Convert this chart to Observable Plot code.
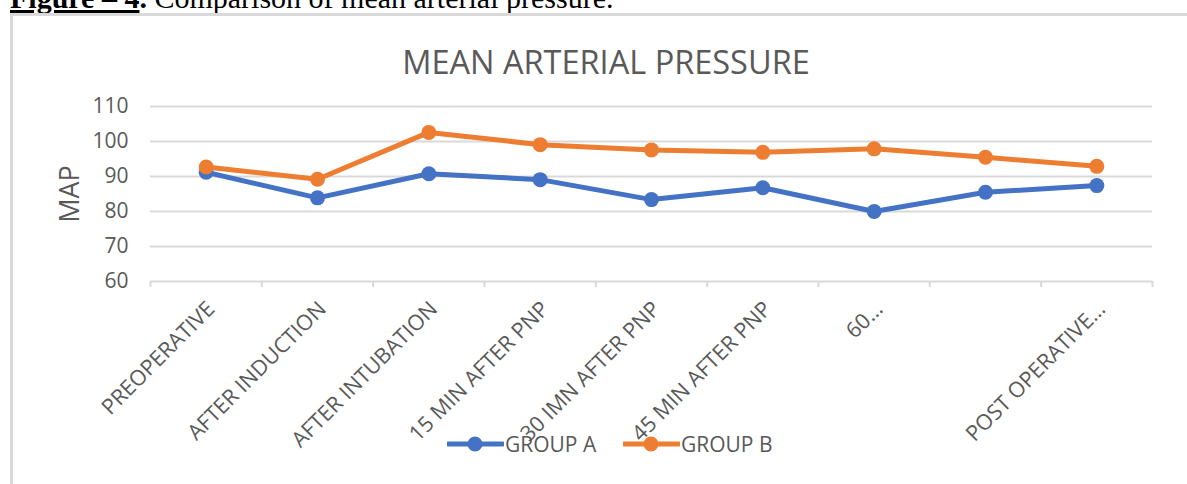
<!DOCTYPE html>
<html>
<head>
<meta charset="utf-8">
<script src="https://cdn.jsdelivr.net/npm/d3@7"></script>
<script src="https://cdn.jsdelivr.net/npm/@observablehq/plot@0.6"></script>
<style>
  html, body { margin: 0; padding: 0; background: #fff; overflow: hidden; }
  #page { position: relative; width: 1187px; height: 484px; overflow: hidden; }
  #caption { position: absolute; left: 10px; top: -17px; font: 30px "Liberation Serif", serif; line-height: 30px; color: #000; white-space: nowrap; }
  #box { position: absolute; left: 10px; top: 13px; width: 1300px; height: 600px; border: 3px solid #d9d9d9; box-sizing: border-box; pointer-events: none; }
  #title { position: absolute; left: 0; width: 1212px; top: 47px; text-align: center; font: 32.5px "Open Sans", sans-serif; line-height: 30px; color: #595959; }
  #ylabel { position: absolute; left: 67.5px; top: 194px; transform: translate(-50%, -50%) rotate(-90deg); font: 27px "Open Sans", sans-serif; line-height: 27px; color: #595959; white-space: nowrap; }
  #chart { position: absolute; left: 0; top: 0; }
  .leg { position: absolute; font: 21px "Open Sans", sans-serif; line-height: 21px; color: #595959; white-space: nowrap; }
  .sw { position: absolute; }
</style>
</head>
<body>
<div id="page">
  <div id="caption"><b><u>Figure – 4</u>.</b> Comparison of mean arterial pressure.</div>
  <div id="chart"></div>
  <div id="box"></div>
  <div id="title">MEAN ARTERIAL PRESSURE</div>
  <div id="ylabel">MAP</div>
  <div id="legend"></div>
</div>
<script>
const categories = ["PREOPERATIVE", "AFTER INDUCTION", "AFTER INTUBATION", "15 MIN AFTER PNP", "30 IMN AFTER PNP", "45 MIN AFTER PNP", "60…", "", "POST OPERATIVE…"];
const groupA = [91.2, 83.9, 90.8, 89.1, 83.4, 86.8, 80.0, 85.5, 87.4];
const groupB = [92.7, 89.2, 102.6, 99.1, 97.6, 96.9, 97.9, 95.5, 92.9];
const seriesNames = ["GROUP A", "GROUP B"];
const seriesColors = ["#4472C4", "#ED7D31"];
const yTicks = [60, 70, 80, 90, 100, 110];

const rowsA = categories.map((c, i) => ({cat: c, i: i + 0.5, v: groupA[i]}));
const rowsB = categories.map((c, i) => ({cat: c, i: i + 0.5, v: groupB[i]}));
const centers = categories.map((c, i) => i + 0.5);
const bounds = d3.range(categories.length + 1);

const chart = Plot.plot({
  width: 1187,
  height: 484,
  marginTop: 106,
  marginBottom: 203,
  marginLeft: 150,
  marginRight: 35,
  x: {domain: [0, categories.length]},
  y: {domain: [60, 110]},
  style: {background: "transparent", fontFamily: "Open Sans", color: "#595959", overflow: "visible"},
  marks: [
    Plot.gridY(yTicks, {stroke: "#d9d9d9", strokeOpacity: 1, strokeWidth: 2}),
    Plot.axisY(yTicks, {tickSize: 0, tickPadding: 22, fontSize: 21, fill: "#595959", label: null}),
    Plot.axisX(bounds, {tickSize: 6, tickFormat: () => "", stroke: "#d9d9d9", strokeWidth: 2, label: null}),
    Plot.axisX(centers, {tickSize: 0, tickPadding: 24, tickRotate: -45, fontSize: 21.5, fill: "#595959",
      tickFormat: v => categories[Math.floor(v)], label: null, dx: 5}),
    Plot.line(rowsA, {x: "i", y: "v", stroke: seriesColors[0], strokeWidth: 5, strokeLinejoin: "round"}),
    Plot.dot(rowsA, {x: "i", y: "v", r: 7.5, fill: seriesColors[0], stroke: "none"}),
    Plot.line(rowsB, {x: "i", y: "v", stroke: seriesColors[1], strokeWidth: 5, strokeLinejoin: "round"}),
    Plot.dot(rowsB, {x: "i", y: "v", r: 7.5, fill: seriesColors[1], stroke: "none"})
  ]
});
document.getElementById("chart").appendChild(chart);

// Legend (HTML)
const legend = document.getElementById("legend");
const legendX = [447, 623];
seriesNames.forEach((name, k) => {
  const sw = document.createElementNS("http://www.w3.org/2000/svg", "svg");
  sw.setAttribute("class", "sw");
  sw.setAttribute("width", 57);
  sw.setAttribute("height", 16);
  sw.style.left = legendX[k] + "px";
  sw.style.top = "436px";
  sw.innerHTML = `<line x1="1" y1="8" x2="56" y2="8" stroke="${seriesColors[k]}" stroke-width="5" stroke-linecap="round"/><circle cx="28" cy="8" r="7.5" fill="${seriesColors[k]}"/>`;
  legend.appendChild(sw);
  const t = document.createElement("div");
  t.className = "leg";
  t.textContent = name;
  t.style.left = (legendX[k] + 58) + "px";
  t.style.top = "434px";
  legend.appendChild(t);
});
</script>
</body>
</html>
